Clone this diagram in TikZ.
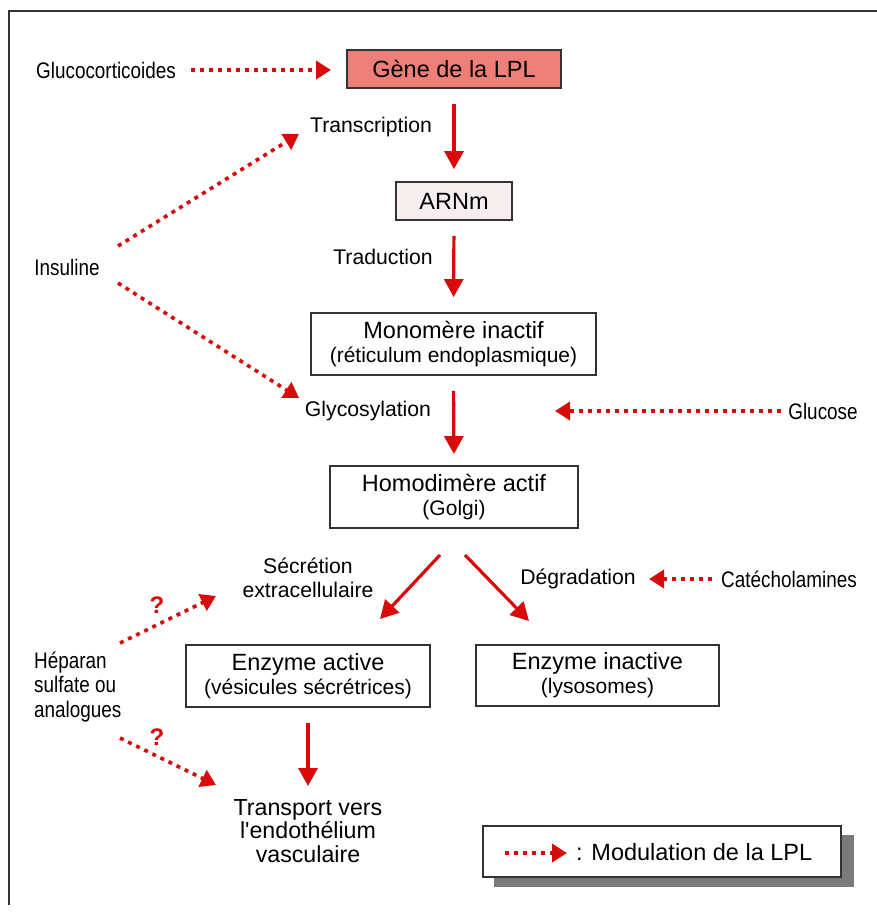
\documentclass[tikz,border=0pt]{standalone}
\usepackage{fontspec}
\setmainfont{Liberation Sans}
\newfontfamily\narrowfont[FakeStretch=0.84]{Liberation Sans}
\usetikzlibrary{arrows.meta}
\definecolor{arrred}{HTML}{D90A0A}
\definecolor{genefill}{HTML}{EE7F78}
\definecolor{arnfill}{HTML}{F6EEEE}
\definecolor{boxline}{HTML}{333333}
\definecolor{shadowgray}{HTML}{7A7A7A}
\begin{document}
\begin{tikzpicture}[x=1pt,y=-1pt,
  box/.style={draw=boxline, line width=1.8pt, align=center, inner sep=0pt, fill=white,
              font=\fontsize{23.5}{24}\selectfont},
  lbl/.style={font=\fontsize{21.2}{23.5}\selectfont, inner sep=0pt, align=center},
  nlbl/.style={font=\narrowfont\fontsize{22.5}{24.5}\selectfont, inner sep=0pt, align=center},
  flow/.style={draw=arrred, line width=3.2pt, -{Triangle[length=18pt,width=19pt]}},
  modarrow/.style={draw=arrred, line width=3.6pt, dash pattern=on 4pt off 5pt,
              -{Triangle[length=15pt,width=18pt]}},
  qmark/.style={font=\fontsize{24}{24}\selectfont\bfseries, text=arrred, inner sep=0pt}
]
\useasboundingbox (0,0) rectangle (877,913);
\fill[white] (0,0) rectangle (877,913);
% frame
\draw[boxline, line width=2pt] (9,905) -- (9,11) -- (877,11);

% boxes
\node[box, fill=genefill, minimum width=214pt, minimum height=38pt] (gene) at (454,69) {Gène de la LPL};
\node[box, fill=arnfill, minimum width=116pt, minimum height=38pt] (arnm) at (454,201) {ARNm};
\node[box, minimum width=285pt, minimum height=62pt] (mono) at (453.5,344)
  {Monomère inactif\\{\fontsize{21}{24}\selectfont (réticulum endoplasmique)}};
\node[box, minimum width=248pt, minimum height=62pt] (homo) at (454,497)
  {Homodimère actif\\{\fontsize{21}{24}\selectfont (Golgi)}};
\node[box, minimum width=244pt, minimum height=62pt] (eact) at (308,676)
  {Enzyme active\\{\fontsize{21}{24}\selectfont (vésicules sécrétrices)}};
\node[box, minimum width=243pt, minimum height=61pt] (einact) at (597.5,675.5)
  {Enzyme inactive\\{\fontsize{21}{24}\selectfont (lysosomes)}};

% labels
\node[nlbl] (gluco) at (106,70) {Glucocorticoides};
\node[lbl] (transc) at (371,127) {Transcription};
\node[lbl] (tradu) at (383,257) {Traduction};
\node[nlbl] (insul) at (67,267) {Insuline};
\node[lbl] (glyco) at (368,411) {Glycosylation};
\node[nlbl] (glucose) at (823,411) {Glucose};
\node[lbl] (secr) at (308,578) {Sécrétion\\extracellulaire};
\node[lbl] (degr) at (578,579) {Dégradation};
\node[nlbl] (catec) at (789,579) {Catécholamines};
\node[nlbl, align=left, anchor=west] (hepar) at (34,687) {Héparan\\sulfate ou\\analogues};
\node[lbl, font=\fontsize{23.2}{23.5}\selectfont] (transp) at (308,831) {Transport vers\\l\textquotesingle endothélium\\vasculaire};
\node[qmark] (q1) at (157,605) {?};
\node[qmark] (q2) at (157,737) {?};

% solid flow arrows
\draw[flow, shorten <=15pt, shorten >=12pt] (gene.south) -- (arnm.north);
\draw[flow, shorten <=15pt, shorten >=15pt] (arnm.south) -- (mono.north);
\draw[flow, shorten <=15pt, shorten >=11pt] (mono.south) -- (homo.north);
\coordinate (h1) at (440,555);
\coordinate (h2) at (465,555);
\coordinate (ea) at (380,619);
\coordinate (ei) at (529,621);
\draw[flow] (h1) -- (ea);
\draw[flow] (h2) -- (ei);
\draw[flow, shorten <=15pt] (eact.south) -- (308,786) coordinate (tr);

% modulation arrows
\coordinate (g1) at (191,70);
\coordinate (g2) at (331,70);
\draw[modarrow] (g1) -- (g2);
\coordinate (i1) at (118,246);
\coordinate (i2) at (299,134);
\draw[modarrow] (i1) -- (i2);
\coordinate (i3) at (118,283);
\coordinate (i4) at (299,398);
\draw[modarrow] (i3) -- (i4);
\coordinate (gl1) at (781,411);
\coordinate (gl2) at (555,411);
\draw[modarrow] (gl1) -- (gl2);
\coordinate (c1) at (712,579);
\coordinate (c2) at (649,579);
\draw[modarrow] (c1) -- (c2);
\coordinate (hp1) at (120,643);
\coordinate (hp2) at (216,596);
\draw[modarrow] (hp1) -- (hp2);
\coordinate (hp3) at (120,738);
\coordinate (hp4) at (216,785);
\draw[modarrow] (hp3) -- (hp4);

% legend
\fill[shadowgray] (494,835) rectangle (854,887);
\node[box, minimum width=358pt, minimum height=51pt] (legend) at (662,851.5) {};
\coordinate (l1) at (505,853);
\coordinate (l2) at (567,853);
\draw[modarrow] (l1) -- (l2);
\node[lbl, anchor=west, font=\fontsize{23.5}{24}\selectfont] (legtext) at (576,852) {: Modulation de la LPL};
\end{tikzpicture}
\end{document}
